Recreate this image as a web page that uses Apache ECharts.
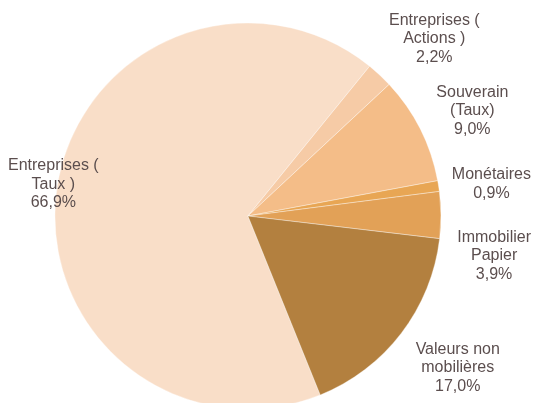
<!DOCTYPE html>
<html>
<head>
<meta charset="utf-8">
<script src="https://cdn.jsdelivr.net/npm/echarts@6/dist/echarts.min.js"></script>
<style>
html,body{margin:0;padding:0;background:#fff;}
#c{width:539px;height:403px;}
</style>
</head>
<body>
<div id="c"></div>
<script>
const categories = ['Entreprises (\nTaux )', 'Entreprises (\nActions )', 'Souverain\n(Taux)', 'Monétaires', 'Immobilier\nPapier', 'Valeurs non\nmobilières'];
const values = [66.9, 2.2, 9.0, 0.9, 3.9, 17.0];
const colors = ['#f9dec8', '#f6cba6', '#f4bd88', '#e8a654', '#e2a157', '#b3803f'];

const W = 539, H = 403;
const CENTER = [0.46, 0.536];
const RADIUS = 193;
const START = 292;
const LABEL_R = RADIUS + 18;
const LINE_H = 18.5;
const EDGE = 8;
const MIN_GAP = 27;
const TEXT_DY = 3.5;

const chart = echarts.init(document.getElementById('c'), null, {renderer: 'canvas'});
const textColor = '#5b4e4e';
const total = values.reduce((a, b) => a + b, 0);

function midAngle(i) {
  let cum = 0;
  for (let k = 0; k < i; k++) cum += values[k];
  return (START - (cum + values[i] / 2) * 360 / total) * Math.PI / 180;
}
function lineCount(i) { return categories[i].split('\n').length + 1; }

// Excel-like "outside end" placement: label box touches the anchor circle.
function labelCenter(i, w, h) {
  const a = midAngle(i);
  const c = Math.cos(a), s = Math.sin(a);
  const m = Math.max(Math.abs(c), Math.abs(s));
  const cx = W * CENTER[0], cy = H * CENTER[1];
  let x = cx + LABEL_R * c + (w / 2) * c / m;
  let y = cy - LABEL_R * s - (h / 2) * s / m;
  x = Math.max(EDGE + w / 2, Math.min(W - EDGE - w / 2, x));
  return [x, y, c >= 0];
}
function labelY(i, h) {
  // push a label down if it overlaps the previous label on the same side
  let prevBottom = -Infinity;
  let result = 0;
  const side = labelCenter(i, 0, h)[2];
  for (let k = 0; k <= i; k++) {
    const hk = k === i ? h : lineCount(k) * LINE_H;
    const pos = labelCenter(k, 0, hk);
    if (pos[2] !== side) continue;
    let y = pos[1];
    if (y - hk / 2 < prevBottom) y = prevBottom + MIN_GAP + hk / 2;
    prevBottom = y + hk / 2;
    result = y;
  }
  return result + TEXT_DY;
}

const data = categories.map((n, i) => ({name: n, value: values[i], itemStyle: {color: colors[i]}}));

chart.setOption({
  animation: false,
  series: [{
    type: 'pie',
    center: [(CENTER[0] * 100) + '%', (CENTER[1] * 100) + '%'],
    radius: RADIUS,
    startAngle: START,
    clockwise: true,
    avoidLabelOverlap: false,
    data: data,
    itemStyle: {borderColor: 'rgba(255,255,255,0.6)', borderWidth: 0.6},
    labelLine: {show: false, length: 15, length2: 0},
    label: {
      show: true,
      position: 'outside',
      formatter: function (p) {
        const lines = p.name.split('\n').concat([p.value.toFixed(1).replace('.', ',') + '%']);
        return lines.map(l => '{c|' + l + '}').join('\n');
      },
      rich: {
        c: {align: 'center', fontSize: 16, lineHeight: LINE_H, color: textColor, fontFamily: 'Liberation Sans, Arial, sans-serif'}
      }
    },
    labelLayout: function (p) {
      const w = p.labelRect.width, h = p.labelRect.height;
      const pos = labelCenter(p.dataIndex, w, h);
      return {x: pos[0], y: labelY(p.dataIndex, h), align: 'center', verticalAlign: 'middle'};
    }
  }]
});
</script>
</body>
</html>
